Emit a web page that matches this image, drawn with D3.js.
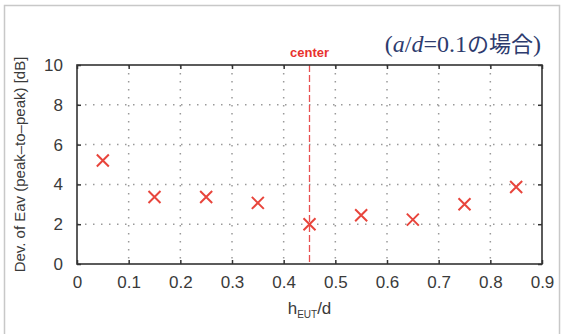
<!DOCTYPE html>
<html>
<head>
<meta charset="utf-8">
<script src="https://cdn.jsdelivr.net/npm/d3@7"></script>
<style>
  html, body { margin: 0; padding: 0; background: #fff; }
  svg { display: block; }
</style>
</head>
<body>
<div id="chart"></div>
<script>
const positions = [0.05, 0.15, 0.25, 0.35, 0.45, 0.55, 0.65, 0.75, 0.85];
const deviation = [5.2, 3.37, 3.37, 3.07, 2.0, 2.45, 2.23, 3.0, 3.87];
const xTicks = [0, 0.1, 0.2, 0.3, 0.4, 0.5, 0.6, 0.7, 0.8, 0.9];
const yTicks = [0, 2, 4, 6, 8, 10];
const centerPos = 0.45;

const width = 564, height = 334;
const margin = {left: 77, right: 22, top: 65, bottom: 70};

const svg = d3.select("#chart").append("svg")
  .attr("width", width)
  .attr("height", height)
  .style("font-family", "'Liberation Sans', Arial, sans-serif");

// outer frame
svg.append("rect")
  .attr("x", 4.5).attr("y", 5.5)
  .attr("width", 555).attr("height", 340)
  .attr("fill", "none")
  .attr("stroke", "#c8c8c8")
  .attr("stroke-width", 1.5);

const x = d3.scaleLinear().domain([0, 0.9]).range([margin.left, width - margin.right]);
const y = d3.scaleLinear().domain([0, 10]).range([height - margin.bottom, margin.top]);

const x0 = x.range()[0], x1 = x.range()[1];
const y0 = y.range()[0], y1 = y.range()[1];

// dotted grid
svg.append("g")
  .selectAll("line")
  .data(xTicks.slice(1, -1))
  .join("line")
    .attr("x1", d => x(d)).attr("x2", d => x(d))
    .attr("y1", y1).attr("y2", y0)
    .attr("stroke", "#9a9a9a")
    .attr("stroke-width", 1.5)
    .attr("stroke-dasharray", "1.5,6.5");

svg.append("g")
  .selectAll("line")
  .data(yTicks.slice(1, -1))
  .join("line")
    .attr("x1", x0).attr("x2", x1)
    .attr("y1", d => y(d)).attr("y2", d => y(d))
    .attr("stroke", "#9a9a9a")
    .attr("stroke-width", 1.5)
    .attr("stroke-dasharray", "1.5,6.5");

// center dashed line
svg.append("line")
  .attr("x1", x(centerPos)).attr("x2", x(centerPos))
  .attr("y1", y1).attr("y2", y0)
  .attr("stroke", "#e85050")
  .attr("stroke-width", 1.3)
  .attr("stroke-dasharray", "7,3");

svg.append("text")
  .attr("x", x(centerPos))
  .attr("y", 57)
  .attr("text-anchor", "middle")
  .attr("fill", "#e8322e")
  .attr("font-size", 13)
  .attr("font-weight", "bold")
  .text("center");

// axes with inward ticks on all sides
const tickLen = 4;
svg.append("g")
  .attr("transform", `translate(0,${y0})`)
  .call(d3.axisBottom(x).tickValues(xTicks).tickSize(-tickLen).tickPadding(12).tickFormat(d3.format("")))
  .call(g => g.select(".domain").remove());

svg.append("g")
  .attr("transform", `translate(0,${y1})`)
  .call(d3.axisTop(x).tickValues(xTicks).tickSize(-tickLen).tickFormat(""))
  .call(g => g.select(".domain").remove());

svg.append("g")
  .attr("transform", `translate(${x0},0)`)
  .call(d3.axisLeft(y).tickValues(yTicks).tickSize(-tickLen).tickPadding(14))
  .call(g => g.select(".domain").remove());

svg.append("g")
  .attr("transform", `translate(${x1},0)`)
  .call(d3.axisRight(y).tickValues(yTicks).tickSize(-tickLen).tickFormat(""))
  .call(g => g.select(".domain").remove());

svg.selectAll(".tick line").attr("stroke", "#333").attr("stroke-width", 1.5);
svg.selectAll(".tick text")
  .attr("fill", "#3a3a3a")
  .attr("font-size", 17)
  .attr("font-family", "'Liberation Sans', Arial, sans-serif");

// plot frame
svg.append("rect")
  .attr("x", x0).attr("y", y1)
  .attr("width", x1 - x0).attr("height", y0 - y1)
  .attr("fill", "none")
  .attr("stroke", "#333")
  .attr("stroke-width", 1.6);

// markers
const s = 6;
svg.append("g")
  .selectAll("path")
  .data(positions.map((p, i) => [p, deviation[i]]))
  .join("path")
    .attr("d", d => {
      const cx = x(d[0]), cy = y(d[1]);
      return `M${cx - s},${cy - s}L${cx + s},${cy + s}M${cx - s},${cy + s}L${cx + s},${cy - s}`;
    })
    .attr("stroke", "#e8453c")
    .attr("stroke-width", 2)
    .attr("fill", "none");

// axis titles
svg.append("text")
  .attr("transform", `translate(25,${(y0 + y1) / 2}) rotate(-90)`)
  .attr("text-anchor", "middle")
  .attr("fill", "#3a3a3a")
  .attr("font-size", 15)
  .text("Dev. of Eav (peak\u2013to\u2013peak) [dB]");

const xl = svg.append("text")
  .attr("x", (x0 + x1) / 2)
  .attr("y", 314)
  .attr("text-anchor", "middle")
  .attr("fill", "#3a3a3a")
  .attr("font-size", 17);
xl.append("tspan").text("h");
xl.append("tspan").attr("font-size", 10).attr("dy", 4).text("EUT");
xl.append("tspan").attr("dy", -4).text("/d");

// case label
const t = svg.append("text")
  .attr("x", 541)
  .attr("y", 52)
  .attr("text-anchor", "end")
  .attr("fill", "#2d3b6e")
  .attr("font-size", 24)
  .attr("font-family", "'Liberation Serif', 'Times New Roman', serif");
t.append("tspan").text("(");
t.append("tspan").attr("font-style", "italic").text("a");
t.append("tspan").text("/");
t.append("tspan").attr("font-style", "italic").text("d");
t.append("tspan").text("=0.1");
t.append("tspan").attr("font-family", "'Noto Sans CJK JP', sans-serif").attr("font-size", 22).text("の場合");
t.append("tspan").text(")");
</script>
</body>
</html>
